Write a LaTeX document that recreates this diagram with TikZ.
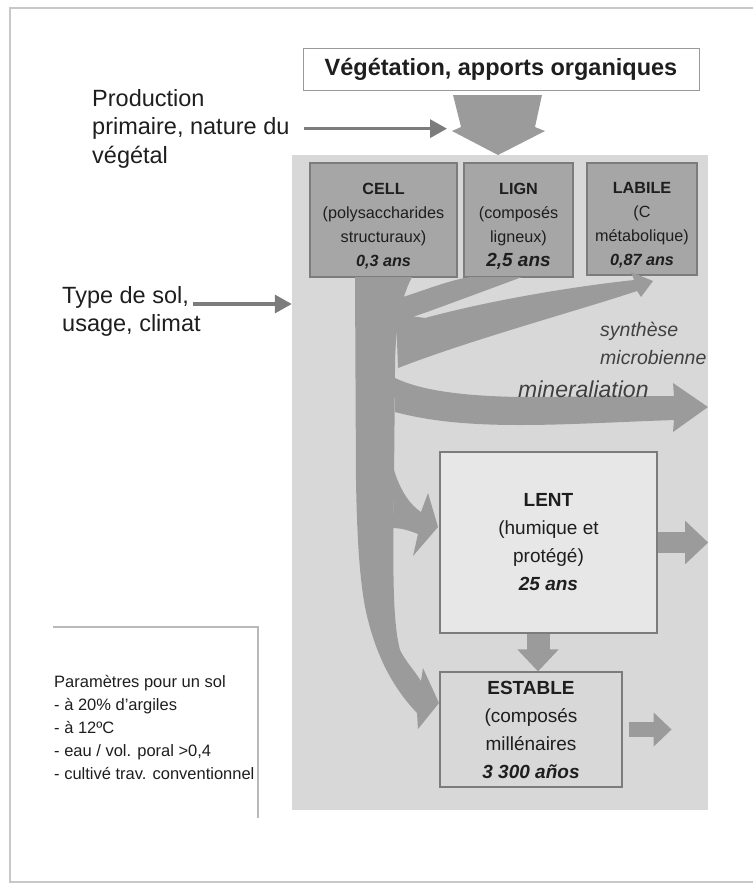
\documentclass[tikz,border=0pt]{standalone}
\usepackage{fontspec}
\setmainfont{Liberation Sans}
\usetikzlibrary{arrows.meta}

\definecolor{panelgray}{HTML}{D8D8D8}
\definecolor{flowgray}{HTML}{9B9B9B}
\definecolor{poolgray}{HTML}{A6A6A6}
\definecolor{lentgray}{HTML}{E7E7E7}
\definecolor{edgegray}{HTML}{7C7C7C}
\definecolor{framegray}{HTML}{C8C8C8}
\definecolor{inkgray}{HTML}{1E1E1E}

\tikzset{%
  poolbox/.style   = {shape=rectangle, draw=edgegray, line width=1.2pt,%
                      fill=poolgray, align=center, inner sep=0pt,%
                      minimum height=114pt, text=inkgray,%
                      font=\fontsize{16.2}{24}\selectfont},%
  slowbox/.style   = {shape=rectangle, draw=edgegray, line width=1.2pt,%
                      fill=lentgray, align=center, inner sep=0pt, text=inkgray,%
                      font=\fontsize{19}{28}\selectfont},%
  sidetext/.style  = {align=left, inner sep=0pt, text=inkgray,%
                      font=\fontsize{23.5}{28.5}\selectfont},%
  flowtext/.style  = {align=left, inner sep=0pt, text=inkgray!85,%
                      font=\fontsize{19.5}{28}\selectfont\itshape},%
  thinarrow/.style = {draw=edgegray, line width=3.5pt,%
                      -{Triangle[length=17pt,width=18pt]}},%
  fatarrow/.style  = {draw=flowgray, line width=21pt,%
                      -{Triangle[length=23pt,width=42pt]}},%
  flow/.style      = {fill=flowgray, draw=none}%
}

\begin{document}
\begin{tikzpicture}[x=1pt,y=-1pt]
  \useasboundingbox (0,0) rectangle (753,887);
  % page frame
  \draw[framegray, line width=2pt] (753,8) -- (10,8) -- (10,882) -- (753,882);

  % grey soil panel
  \node[shape=rectangle, fill=panelgray, inner sep=0pt,
        minimum width=416pt, minimum height=655pt] (panel) at (500,482.5) {};

  % inputs
  \node[draw=gray!80, line width=1pt, fill=white, inner sep=0pt,
        minimum width=396pt, minimum height=42pt, text=inkgray,
        font=\fontsize{23.5}{26}\selectfont\bfseries] (veg) at (501,69)
        {Végétation, apports organiques\hspace{12pt}};
  \fill[flowgray] (453,95) -- (461,127) -- (452,131) -- (498,155)
                  -- (545,131) -- (535,127) -- (542,95) -- cycle;

  \node[sidetext, anchor=north west] (prod) at (92,89)
        {Production\\primaire, nature du\\végétal};
  \coordinate (vegin) at (447,126);
  \draw[thinarrow] ([xshift=14pt]prod.east) -- (prod.east -| vegin);

  \node[sidetext, anchor=north west] (sol) at (62,286)
        {Type de sol,\\usage, climat};
  \coordinate (solstart) at ([xshift=-8pt,yshift=-18pt]sol.north east);
  \draw[thinarrow] (solstart) -- (solstart -| panel.west);

  % fresh pools
  \node[poolbox, minimum width=147pt] (cell) at (383.5,220)
        {\rule{0pt}{24pt}\textbf{CELL}\\(polysaccharides\\structuraux)\\\textbf{\textit{0,3 ans}}};
  \node[poolbox, minimum width=109pt] (lign) at (518.5,220)
        {\rule{0pt}{24pt}\textbf{LIGN}\\(composés\\ligneux)\\{\fontsize{19}{24}\selectfont\textbf{\textit{2,5 ans}}}};
  \node[poolbox, minimum width=110pt, minimum height=112pt] (labile) at (642,219)
        {\rule{0pt}{24pt}\textbf{LABILE}\\(C\\métabolique)\\\textbf{\textit{0,87 ans}}};

  % flows
  \fill[flow] (355,277) -- (412,277) .. controls (400,300) and (395,330) .. (395,370)
              -- (394,480) .. controls (393,560) and (392,620) .. (400,650)
              .. controls (406,662) and (414,670) .. (421,681)
              -- (423,668) -- (439,703) -- (418,729) -- (417,713)
              .. controls (395,690) and (378,660) .. (368,620)
              .. controls (360,590) and (357,540) .. (356,480) -- cycle;
  \fill[flow] (400,298) .. controls (425,290) and (450,280) .. (470,277) -- (522,277)
              .. controls (495,287) and (460,300) .. (427,312) -- (398,322) -- cycle;
  \fill[flow] (396,314) -- (425,318) .. controls (480,303) and (560,288) .. (634,280)
              -- (631,272) -- (653,281) -- (641,297) -- (637,291)
              .. controls (580,310) and (470,340) .. (398,368) -- cycle;
  \fill[flow] (395,378) .. controls (420,390) and (460,396) .. (520,397) -- (674,396)
              -- (673,383) -- (708,407) -- (673,432) -- (674,420)
              .. controls (560,424) and (470,432) .. (395,412) -- cycle;
  \fill[flow] (394,470) .. controls (400,490) and (410,505) .. (421,512)
              -- (428,493) -- (438,527) -- (413,556) -- (418,534)
              .. controls (408,530) and (400,528) .. (393,528) -- cycle;

  \node[flowtext, anchor=north west] (synth) at (600,322) {synthèse\\microbienne};
  \node[flowtext, anchor=west, font=\fontsize{23}{26}\selectfont\itshape] (miner) at (518,389) {mineraliation};

  % humified pools
  \node[slowbox, minimum width=217pt, minimum height=181pt] (lent) at (548.5,542.5)
        {\textbf{LENT}\\(humique et\\protégé)\\\textbf{\textit{25 ans}}};
  \node[slowbox, fill=panelgray, minimum width=182pt, minimum height=115pt] (estable) at (531,729.5)
        {\textbf{ESTABLE}\\(composés\\millénaires\\\textbf{\textit{3 300 años}}};

  \draw[fatarrow] (lent.east) -- (lent.east -| panel.east);
  \draw[fatarrow, line width=23pt, -{Triangle[length=22pt,width=40pt]}]
        ([xshift=-10.5pt]lent.south) -- ([xshift=7pt]estable.north);
  \draw[fatarrow, line width=15pt, -{Triangle[length=18pt,width=33pt]}]
        ([xshift=6pt]estable.east) -- ++(43,0);

  % parameters
  \node[shape=rectangle, inner sep=0pt, minimum width=205pt, minimum height=191pt] (params) at (155.5,722.5) {};
  \draw[gray!55, line width=2pt] (params.north west) -- (params.north east) -- (params.south east);
  \node[anchor=north west, align=left, inner sep=0pt, text=inkgray,
        font=\fontsize{16.5}{23}\selectfont] (paramtext) at (54,675)
        {Paramètres pour un sol\\- à 20\% d'argiles\\- à 12ºC\\- eau / vol. poral >0,4\\- cultivé trav. conventionnel};
\end{tikzpicture}
\end{document}
